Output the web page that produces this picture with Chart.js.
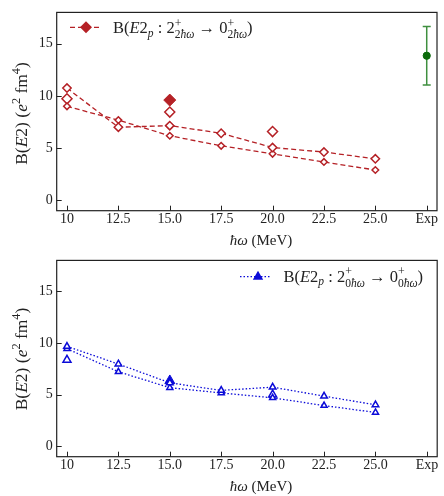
<!DOCTYPE html>
<html><head><meta charset="utf-8">
<script src="https://cdn.jsdelivr.net/npm/chart.js@4"></script>
<style>html,body{margin:0;padding:0;background:#fff;} canvas{display:block;}</style>
</head><body>
<canvas id="c1" width="444" height="248"></canvas>
<canvas id="c2" width="444" height="248"></canvas>
<script>
// ---- data ----
const hw = [10, 12.5, 15, 17.5, 20, 22.5, 25];
const xTickValues = [10, 12.5, 15, 17.5, 20, 22.5, 25, 27.5];
const xTickLabels = ['10', '12.5', '15.0', '17.5', '20.0', '22.5', '25.0', 'Exp'];
const yTickValues = [0, 5, 10, 15];

const top1 = [10.75, 7.0, 7.15, 6.42, 5.05, 4.62, 3.97];
const top2 = [9.0, 7.68, 6.18, 5.22, 4.45, 3.67, 2.9];
const topExtraX = [10, 15, 20];
const topExtraY = [9.72, 8.45, 6.58];
const topFilledX = [15];
const topFilledY = [9.6];

const expX = [27.5];
const expVal = [13.85];
const expErr = [2.8];

const bot1 = [9.68, 7.97, 6.15, 5.42, 5.73, 4.86, 4.02];
const bot2 = [9.45, 7.22, 5.68, 5.17, 4.70, 3.95, 3.28];
const botExtraX = [10, 20];
const botExtraY = [8.37, 5.01];
const botFilledX = [15];
const botFilledY = [6.35];

// ---- style ----
const FAM = '"Liberation Serif", "DejaVu Serif", serif';
const RED = '#b52126';
const BLUE = '#0b0bd8';
const GREEN = '#0a6a0a';
const INK = '#222';

const pts = (xs, ys) => xs.map((x, i) => ({x: x, y: ys[i]}));

function drawRich(ctx, segs, x, y, fs, align) {
  let w = 0;
  for (const s of segs) {
    const sz = fs * (s.sz || 1);
    ctx.font = (s.it ? 'italic ' : '') + sz + 'px ' + FAM;
    s._w = ctx.measureText(s.t).width;
    if (s.adv !== false) w += s._w;
  }
  let cx = align === 'center' ? x - w / 2 : x;
  for (const s of segs) {
    const sz = fs * (s.sz || 1);
    ctx.font = (s.it ? 'italic ' : '') + sz + 'px ' + FAM;
    ctx.fillText(s.t, cx, y + (s.dy || 0) * fs);
    if (s.adv !== false) cx += s._w;
  }
}

const yTitle = [
  {t: 'B('}, {t: 'E', it: true}, {t: '2) ('}, {t: 'e', it: true},
  {t: '2', sz: 0.7, dy: -0.38}, {t: ' fm'}, {t: '4', sz: 0.7, dy: -0.38}, {t: ')'}
];
const xTitle = [{t: 'ħω', it: true}, {t: ' (MeV)'}];
function legendSegs(lvl) {
  return [
    {t: 'B('}, {t: 'E', it: true}, {t: '2'}, {t: 'p', it: true, sz: 0.7, dy: 0.2},
    {t: ' : 2'}, {t: '+', sz: 0.72, dy: -0.4, adv: false},
    {t: lvl, sz: 0.7, dy: 0.3}, {t: 'ħω', it: true, sz: 0.7, dy: 0.3},
    {t: ' → 0'}, {t: '+', sz: 0.72, dy: -0.4, adv: false},
    {t: lvl, sz: 0.7, dy: 0.3}, {t: 'ħω', it: true, sz: 0.7, dy: 0.3}, {t: ')'}
  ];
}

function decorPlugin(cfg) {
  return {
    id: 'decor',
    beforeDatasetsDraw(chart) {
      if (!cfg.err) return;
      const ctx = chart.ctx, xs = chart.scales.x, ys = chart.scales.y;
      ctx.save();
      ctx.strokeStyle = '#3f8f3f';
      ctx.lineWidth = 1.5;
      for (let i = 0; i < expX.length; i++) {
        const px = xs.getPixelForValue(expX[i]);
        const p1 = ys.getPixelForValue(expVal[i] + expErr[i]);
        const p2 = ys.getPixelForValue(expVal[i] - expErr[i]);
        ctx.beginPath();
        ctx.moveTo(px, p1); ctx.lineTo(px, p2);
        ctx.moveTo(px - 4, p1); ctx.lineTo(px + 4, p1);
        ctx.moveTo(px - 4, p2); ctx.lineTo(px + 4, p2);
        ctx.stroke();
      }
      ctx.restore();
    },
    afterDraw(chart) {
      const ctx = chart.ctx, a = chart.chartArea;
      const xs = chart.scales.x, ys = chart.scales.y;
      ctx.save();
      // frame
      ctx.strokeStyle = INK;
      ctx.lineWidth = 1.2;
      ctx.strokeRect(a.left, a.top, a.right - a.left, a.bottom - a.top);
      // inward ticks
      ctx.lineWidth = 1;
      ctx.beginPath();
      for (const v of xTickValues) {
        const px = Math.round(xs.getPixelForValue(v)) + 0.5;
        ctx.moveTo(px, a.bottom); ctx.lineTo(px, a.bottom - 5);
      }
      for (const v of yTickValues) {
        const py = Math.round(ys.getPixelForValue(v)) + 0.5;
        ctx.moveTo(a.left, py); ctx.lineTo(a.left + 5, py);
      }
      ctx.stroke();
      // titles
      ctx.fillStyle = INK;
      ctx.textBaseline = 'alphabetic';
      drawRich(ctx, xTitle, cfg.xTitleX, cfg.xTitleY, 15, 'center');
      ctx.save();
      ctx.translate(cfg.yTitleX, cfg.yTitleY);
      ctx.rotate(-Math.PI / 2);
      drawRich(ctx, yTitle, 0, 0, 17.5, 'center');
      ctx.restore();
      // legend
      const L = cfg.legend;
      ctx.strokeStyle = L.color;
      ctx.lineWidth = 1.3;
      ctx.setLineDash(L.dash);
      ctx.beginPath();
      ctx.moveTo(L.x0, L.y); ctx.lineTo(L.x1, L.y);
      ctx.stroke();
      ctx.setLineDash([]);
      ctx.fillStyle = L.color;
      ctx.beginPath();
      if (L.shape === 'diamond') {
        const r = 6;
        ctx.moveTo(L.mx - r, L.y); ctx.lineTo(L.mx, L.y - r);
        ctx.lineTo(L.mx + r, L.y); ctx.lineTo(L.mx, L.y + r);
      } else {
        const r = 6;
        ctx.moveTo(L.mx, L.y - r);
        ctx.lineTo(L.mx + r * 0.866, L.y + r * 0.5);
        ctx.lineTo(L.mx - r * 0.866, L.y + r * 0.5);
      }
      ctx.closePath();
      ctx.fill();
      ctx.fillStyle = INK;
      drawRich(ctx, legendSegs(L.lvl), L.tx, L.ty, 16.5, 'left');
      ctx.restore();
    }
  };
}

function makeChart(id, datasets, cfg) {
  return new Chart(document.getElementById(id), {
    type: 'scatter',
    data: {datasets: datasets},
    options: {
      responsive: false,
      animation: false,
      devicePixelRatio: 1,
      layout: {padding: {top: cfg.padTop, right: 4, left: 0, bottom: 0}},
      plugins: {legend: {display: false}, tooltip: {enabled: false}},
      scales: {
        x: {
          type: 'linear', min: 9.5, max: 28,
          afterBuildTicks: s => { s.ticks = xTickValues.map(v => ({value: v})); },
          afterFit: s => { s.height = cfg.xH; },
          ticks: {
            callback: (v, i) => xTickLabels[i],
            font: {family: FAM, size: 14}, color: INK, padding: 0,
            maxRotation: 0, autoSkip: false
          },
          grid: {display: false, drawTicks: false},
          border: {display: false}
        },
        y: {
          min: -1, max: 18,
          afterBuildTicks: s => { s.ticks = yTickValues.map(v => ({value: v})); },
          afterFit: s => { s.width = 56.7; },
          ticks: {
            callback: v => String(v),
            font: {family: FAM, size: 14}, color: INK, padding: 4
          },
          grid: {display: false, drawTicks: false},
          border: {display: false}
        }
      }
    },
    plugins: [decorPlugin(cfg)]
  });
}

const lineDs = (data, color, dash, style, r, bw) => ({
  data: data, showLine: true, borderColor: color, borderWidth: 1.3, borderDash: dash,
  pointStyle: style, pointRadius: r, pointBorderColor: color, pointBackgroundColor: '#fff',
  pointBorderWidth: bw, fill: false, tension: 0
});
const markDs = (data, color, style, r, bw, filled) => ({
  data: data, showLine: false, pointStyle: style, pointRadius: r,
  pointBorderColor: color, pointBackgroundColor: filled ? color : '#fff', pointBorderWidth: bw
});

makeChart('c1', [
  lineDs(pts(hw, top1), RED, [5, 3], 'rectRot', 4.2, 1.5),
  lineDs(pts(hw, top2), RED, [5, 3], 'rectRot', 3.3, 1.5),
  markDs(pts(topExtraX, topExtraY), RED, 'rectRot', 5, 1.5, false),
  markDs(pts(topFilledX, topFilledY), RED, 'rectRot', 6, 1, true),
  markDs(pts(expX, expVal), GREEN, 'circle', 3.6, 1, true)
], {
  padTop: 6, xH: 37.3, err: true,
  xTitleX: 261, xTitleY: 245, yTitleX: 26.5, yTitleY: 113.5,
  legend: {color: RED, dash: [5, 3], shape: 'diamond', x0: 70, x1: 102, mx: 86, y: 27.3,
           tx: 113, ty: 33.3, lvl: '2'}
});

makeChart('c2', [
  lineDs(pts(hw, bot1), BLUE, [1.5, 2], 'triangle', 3.8, 1.5),
  lineDs(pts(hw, bot2), BLUE, [1.5, 2], 'triangle', 3.5, 1.5),
  markDs(pts(botExtraX, botExtraY), BLUE, 'triangle', 4.6, 1.5, false),
  markDs(pts(botFilledX, botFilledY), BLUE, 'triangle', 5.8, 1, true)
], {
  padTop: 4.7, xH: 39.3, err: false,
  xTitleX: 261, xTitleY: 242.7, yTitleX: 26.5, yTitleY: 111,
  legend: {color: BLUE, dash: [1.5, 2], shape: 'triangle', x0: 240, x1: 271, mx: 258, y: 28.7,
           tx: 283.5, ty: 34, lvl: '0'}
});
</script>
</body></html>
